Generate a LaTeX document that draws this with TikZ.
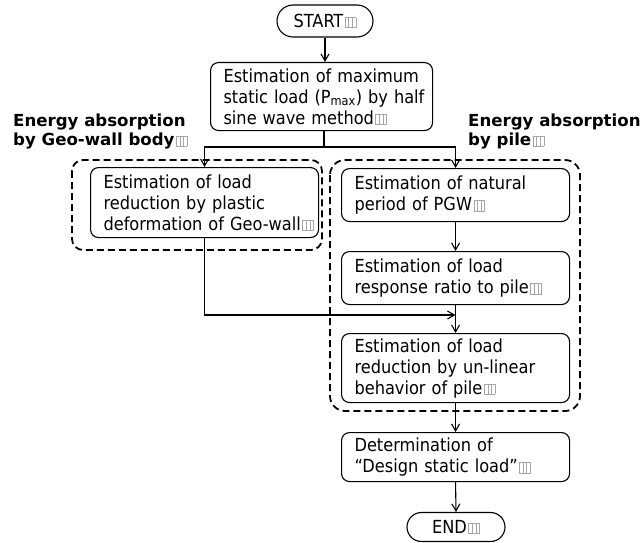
\documentclass[tikz,border=0pt]{standalone}
\usepackage{fontspec}
\setmainfont{DejaVu Sans Condensed}
\newfontfamily\headfont{DejaVu Sans}
\usetikzlibrary{arrows.meta,shapes.misc}
% small grey placeholder glyph that follows each label
\newcommand\gapmark{\kern1.5pt{\color{black!35}\setlength\fboxsep{0pt}\setlength\fboxrule{0.6pt}\fbox{\rule{0pt}{9.5pt}\kern3pt\vrule width 0.6pt\kern3pt\vrule width 0.6pt\kern3pt}}}
% one unbreakable text line inside a box
\newcommand\tl[1]{\mbox{#1}}
\begin{document}
\begin{tikzpicture}[x=1pt,y=-1pt,
  bodyfont/.style={font=\fontsize{18}{21}\selectfont},
  flowbox/.style={draw, line width=1.1pt, rounded corners=8pt, align=left,
    inner xsep=13pt, inner ysep=0pt, anchor=north west, bodyfont},
  term/.style={draw, rounded rectangle, line width=1.1pt, inner sep=0pt, bodyfont},
  flow/.style={line width=1.1pt, -{Straight Barb[length=7pt,width=8pt]}},
  link/.style={line width=1.1pt},
  group/.style={line width=1.8pt, dash pattern=on 7pt off 4pt},
  heading/.style={font=\headfont\bfseries\fontsize{16.6}{19}\selectfont, align=left,
    anchor=north west, inner sep=0pt}]
\useasboundingbox (0,0) rectangle (643,543);

% terminals
\node[term, minimum width=96pt, minimum height=32pt] (start) at (325,21) {START\gapmark};
\node[term, minimum width=98pt, minimum height=29pt] (end) at (456,527) {END\gapmark};

% process boxes
\node[flowbox, minimum width=222pt, text width=196pt, minimum height=68pt] (box1) at (210,62)
  {\tl{Estimation of maximum}\\\tl{static load (P\textsubscript{max}) by half}\\\tl{sine wave method\gapmark}};
\node[flowbox, minimum width=228pt, text width=202pt, minimum height=70pt] (lb) at (90,167)
  {\tl{Estimation of load}\\\tl{reduction by plastic}\\\tl{deformation of Geo-wall\gapmark}};
\node[flowbox, minimum width=228pt, text width=202pt, minimum height=53pt] (r1) at (341,168)
  {\tl{Estimation of natural}\\\tl{period of PGW\gapmark}};
\node[flowbox, minimum width=228pt, text width=202pt, minimum height=53pt] (r2) at (341,251)
  {\tl{Estimation of load}\\\tl{response ratio to pile\gapmark}};
\node[flowbox, minimum width=228pt, text width=202pt, minimum height=69pt] (r3) at (341,333)
  {\tl{Estimation of load}\\\tl{reduction by un-linear}\\\tl{behavior of pile\gapmark}};
\node[flowbox, minimum width=228pt, text width=202pt, minimum height=49pt] (r4) at (341,432)
  {\tl{Determination of}\\\tl{“Design static load”\gapmark}};

% group headings
\node[heading] (hleft) at (13,114) {Energy absorption\\by Geo-wall body\gapmark};
\node[heading] (hright) at (468,114) {Energy absorption\\by pile\gapmark};

% dashed groups
\draw[group, rounded corners=11pt] (72,160) rectangle (322,250);
\draw[group, rounded corners=15pt] (330,160) rectangle (580,411);

% connectors
\coordinate (split) at (324,147);
\coordinate (mergey) at (0,315);
\draw[flow] (start.south) -- (start.south |- box1.north);
\draw[link] (split |- box1.south) -- (split);
\draw[flow] (split) -| (lb.north);
\draw[flow] (split) -| (r1.north);
\draw[flow] (r1.south) -- (r2.north);
\draw[flow] (lb.south) |- (r2.south |- mergey);
\draw[flow] (r2.south) -- (r3.north);
\draw[flow] (r3.south) -- (r4.north);
\draw[flow] (r4.south) -- (end.north);
\end{tikzpicture}
\end{document}
